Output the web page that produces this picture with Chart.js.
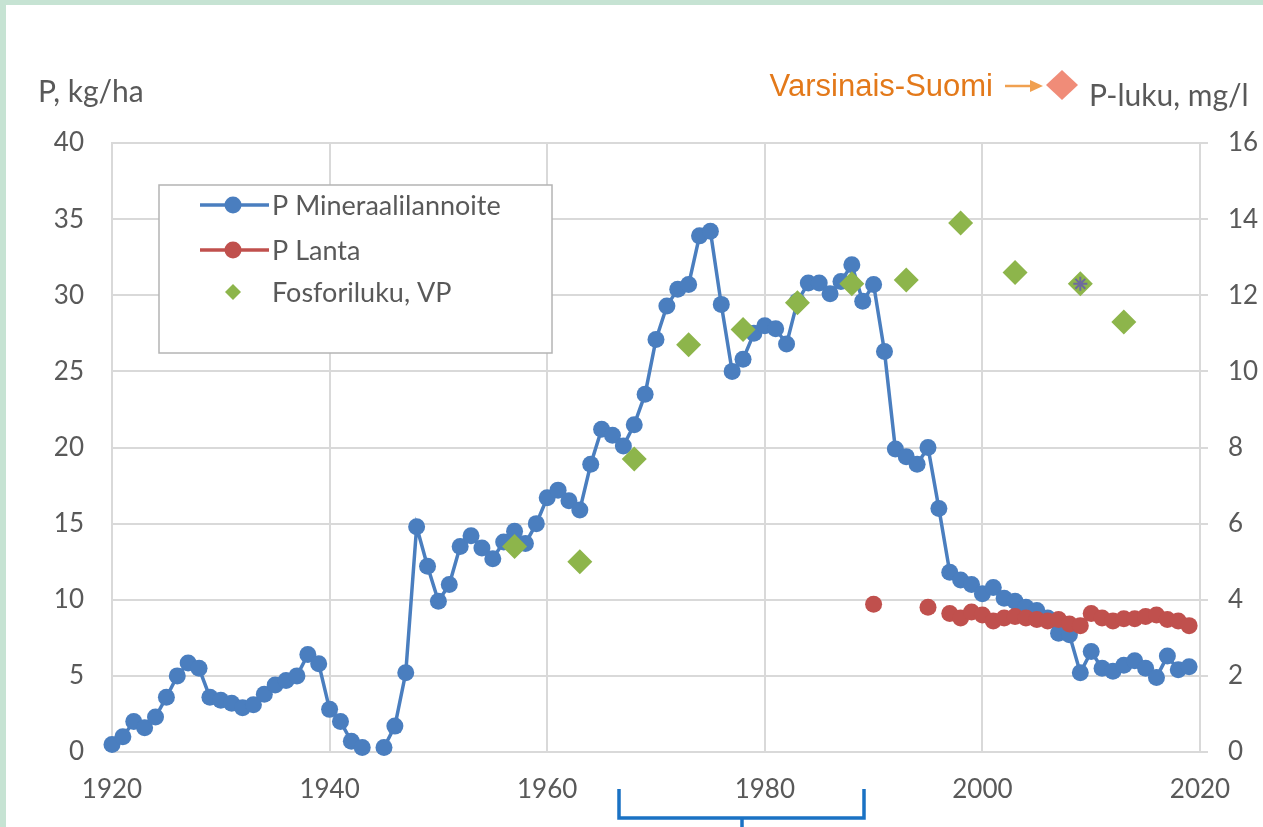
<!DOCTYPE html>
<html>
<head>
<meta charset="utf-8">
<script src="https://cdn.jsdelivr.net/npm/chart.js@4"></script>
<style>
  html, body { margin: 0; padding: 0; }
  body { width: 1263px; height: 827px; background: #c6e3d3; overflow: hidden; }
  #panel { position: absolute; left: 6px; top: 5px; width: 1257px; height: 822px; background: #fff; }
</style>
</head>
<body>
<div id="panel"><canvas id="chart" width="1257" height="822"></canvas></div>
<script>
// P Mineraalilannoite, kg/ha, 1920-2019 (1944 missing)
const mineralYears = [];
for (let y = 1920; y <= 2019; y++) mineralYears.push(y);
const mineralValues = [
  0.5, 1.0, 2.0, 1.6, 2.3, 3.6, 5.0, 5.85, 5.5, 3.6,
  3.4, 3.2, 2.9, 3.1, 3.8, 4.4, 4.7, 5.0, 6.4, 5.8,
  2.8, 2.0, 0.7, 0.3, null, 0.3, 1.7, 5.2, 14.8, 12.2,
  9.9, 11.0, 13.5, 14.2, 13.4, 12.7, 13.8, 14.5, 13.7, 15.0,
  16.7, 17.2, 16.5, 15.9, 18.9, 21.2, 20.8, 20.1, 21.5, 23.5,
  27.1, 29.3, 30.4, 30.7, 33.9, 34.2, 29.4, 25.0, 25.8, 27.5,
  28.0, 27.8, 26.8, 29.6, 30.8, 30.8, 30.1, 30.9, 32.0, 29.6,
  30.7, 26.3, 19.9, 19.4, 18.9, 20.0, 16.0, 11.8, 11.3, 11.0,
  10.4, 10.8, 10.1, 9.9, 9.5, 9.3, 8.8, 7.8, 7.7, 5.2,
  6.6, 5.5, 5.3, 5.7, 6.0, 5.5, 4.9, 6.3, 5.4, 5.6
];

// P Lanta, kg/ha, 1990-2019
const manureYears = [];
for (let y = 1990; y <= 2019; y++) manureYears.push(y);
const manureValues = [
  9.7, null, null, null, null, 9.5, null, 9.1, 8.8, 9.2,
  9.0, 8.6, 8.8, 8.9, 8.8, 8.7, 8.6, 8.7, 8.4, 8.3,
  9.1, 8.8, 8.6, 8.75, 8.75, 8.9, 9.0, 8.7, 8.6, 8.3
];

// Fosforiluku, VP, mg/l (right axis)
const phosYears = [1957, 1963, 1968, 1973, 1978, 1983, 1988, 1993, 1998, 2003, 2009, 2013];
const phosValues = [5.4, 5.0, 7.7, 10.7, 11.1, 11.8, 12.3, 12.4, 13.9, 12.6, 12.3, 11.3];

// Varsinais-Suomi marker
const vsYears = [2009];
const vsValues = [12.3];

const xTicks = [1920, 1940, 1960, 1980, 2000, 2020];

const BLUE = '#4a7ebf';
const RED = '#c0504d';
const GREEN = '#8db54b';
const GRID = '#d9d9d9';
const TXT = '#595959';
const FONT = 'Lato, "Open Sans", sans-serif';

function pts(xs, ys) {
  return xs.map((x, i) => ({ x: x, y: ys[i] }));
}

const decor = {
  id: 'decor',
  afterDraw(chart) {
    const ctx = chart.ctx;
    ctx.save();
    // axis titles
    ctx.fillStyle = TXT;
    ctx.font = '30px ' + FONT;
    ctx.textBaseline = 'middle';
    ctx.textAlign = 'left';
    ctx.fillText('P, kg/ha', 32, 87);
    ctx.fillText('P-luku, mg/l', 1083, 91);

    // Varsinais-Suomi annotation
    ctx.font = '31px "Liberation Sans", Arial, sans-serif';
    ctx.fillStyle = '#e3791a';
    ctx.textAlign = 'right';
    ctx.fillText('Varsinais-Suomi', 987, 82);
    ctx.strokeStyle = '#f0a050';
    ctx.lineWidth = 2.5;
    ctx.beginPath();
    ctx.moveTo(999, 81);
    ctx.lineTo(1028, 81);
    ctx.stroke();
    ctx.fillStyle = '#f0a050';
    ctx.beginPath();
    ctx.moveTo(1037, 81);
    ctx.lineTo(1024, 75);
    ctx.lineTo(1024, 87);
    ctx.closePath();
    ctx.fill();
    ctx.fillStyle = '#f08c78';
    ctx.beginPath();
    ctx.moveTo(1056, 65);
    ctx.lineTo(1072, 80);
    ctx.lineTo(1056, 95);
    ctx.lineTo(1040, 80);
    ctx.closePath();
    ctx.fill();

    // legend box
    ctx.fillStyle = '#fff';
    ctx.fillRect(153, 180, 393, 168);
    ctx.strokeStyle = '#b4b4b4';
    ctx.lineWidth = 1.5;
    ctx.strokeRect(153, 180, 393, 168);
    ctx.font = '27px ' + FONT;
    ctx.textAlign = 'left';
    const items = [
      { label: 'P Mineraalilannoite', color: BLUE, y: 200, line: true },
      { label: 'P Lanta', color: RED, y: 245, line: true },
      { label: 'Fosforiluku, VP', color: GREEN, y: 287, line: false }
    ];
    items.forEach(it => {
      if (it.line) {
        ctx.strokeStyle = it.color;
        ctx.lineWidth = 3.5;
        ctx.beginPath();
        ctx.moveTo(194, it.y);
        ctx.lineTo(263, it.y);
        ctx.stroke();
        ctx.fillStyle = it.color;
        ctx.beginPath();
        ctx.arc(227, it.y, 8.5, 0, Math.PI * 2);
        ctx.fill();
      } else {
        ctx.fillStyle = it.color;
        ctx.beginPath();
        ctx.moveTo(227, it.y - 8);
        ctx.lineTo(235, it.y);
        ctx.lineTo(227, it.y + 8);
        ctx.lineTo(219, it.y);
        ctx.closePath();
        ctx.fill();
      }
      ctx.fillStyle = TXT;
      ctx.fillText(it.label, 266, it.y + 1);
    });

    // bracket under the axis
    ctx.strokeStyle = '#1a72c4';
    ctx.lineWidth = 3.5;
    ctx.beginPath();
    ctx.moveTo(613, 784);
    ctx.lineTo(613, 813);
    ctx.lineTo(858, 813);
    ctx.lineTo(858, 784);
    ctx.moveTo(736, 813);
    ctx.lineTo(736, 825);
    ctx.stroke();
    ctx.restore();
  }
};

new Chart(document.getElementById('chart'), {
  type: 'line',
  data: {
    datasets: [
      {
        label: 'P Mineraalilannoite',
        data: pts(mineralYears, mineralValues),
        yAxisID: 'y',
        borderColor: BLUE,
        backgroundColor: BLUE,
        borderWidth: 3.5,
        pointRadius: 8.5,
        pointBorderWidth: 0,
        spanGaps: false,
        clip: false,
        order: 4
      },
      {
        label: 'P Lanta',
        data: pts(manureYears, manureValues),
        yAxisID: 'y',
        borderColor: RED,
        backgroundColor: RED,
        borderWidth: 3.5,
        pointRadius: 8.5,
        pointBorderWidth: 0,
        spanGaps: false,
        clip: false,
        order: 3
      },
      {
        label: 'Fosforiluku, VP',
        data: pts(phosYears, phosValues),
        yAxisID: 'y2',
        showLine: false,
        pointStyle: 'rectRot',
        pointRadius: 12.5,
        pointBorderWidth: 0,
        backgroundColor: GREEN,
        borderColor: GREEN,
        clip: false,
        order: 2
      },
      {
        label: 'Varsinais-Suomi',
        data: pts(vsYears, vsValues),
        yAxisID: 'y2',
        showLine: false,
        pointStyle: 'star',
        pointRadius: 7,
        pointBorderWidth: 2,
        borderColor: '#6e6a9e',
        backgroundColor: '#6e6a9e',
        clip: false,
        order: 1
      }
    ]
  },
  options: {
    responsive: false,
    animation: false,
    devicePixelRatio: 1,
    layout: { padding: { top: 138, left: 0, right: 0, bottom: 0 } },
    plugins: { legend: { display: false }, tooltip: { enabled: false } },
    scales: {
      x: {
        type: 'linear',
        min: 1920,
        max: 2020,
        afterBuildTicks: s => { s.ticks = xTicks.map(v => ({ value: v })); },
        afterFit: s => { s.height = 75; },
        ticks: {
          color: TXT,
          font: { family: FONT, size: 26 },
          padding: 22,
          maxRotation: 0,
          callback: v => String(v)
        },
        grid: { color: GRID, lineWidth: 2, drawTicks: false },
        border: { color: GRID, width: 2 }
      },
      y: {
        position: 'left',
        min: 0,
        max: 40,
        afterFit: s => { s.width = 106; },
        ticks: { stepSize: 5, color: TXT, font: { family: FONT, size: 26 }, padding: 28 },
        grid: { color: GRID, lineWidth: 2, drawTicks: false },
        border: { color: GRID, width: 2 }
      },
      y2: {
        position: 'right',
        min: 0,
        max: 16,
        afterFit: s => { s.width = 63; },
        ticks: { stepSize: 2, color: TXT, font: { family: FONT, size: 26 }, padding: 20 },
        grid: { drawOnChartArea: false, color: GRID, lineWidth: 2, tickLength: 8 },
        border: { color: GRID, width: 2 }
      }
    }
  },
  plugins: [decor]
});
</script>
</body>
</html>
